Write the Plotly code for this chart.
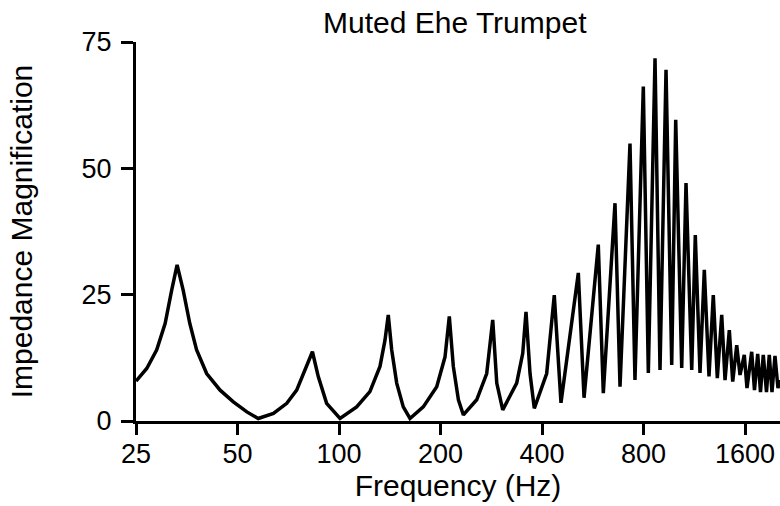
import math
import plotly.graph_objects as go

# Frequency (Hz) and impedance magnification
freq_hz = [25.0, 26.9, 28.8, 30.5, 31.9, 33.1, 34.5, 36.1, 37.8, 40.5,
           44.4, 48.6, 53.3, 57.6, 63.9, 70.0, 74.9, 79.3, 83.4, 86.8,
           91.9, 100.7, 112.8, 123.5, 132.3, 136.9, 140.0, 143.3, 148.3, 155.1,
           162.4, 177.8, 194.9, 206.3, 212.4, 218.3, 226.0, 233.8, 256.1, 274.2,
           285.7, 293.7, 305.9, 336.5, 350.7, 358.6, 368.6, 379.5, 413.0, 435.0,
           455.4, 512.6, 533.0, 587.5, 608.0, 658.5, 681.5, 729.5, 754.8, 799.0,
           826.8, 865.5, 895.5, 933.0, 970.0, 996.8, 1038.5, 1069.5, 1112.0, 1139.5,
           1176.8, 1211.8, 1251.3, 1288.5, 1324.3, 1364.8, 1396.0, 1437.5, 1471.3, 1512.0,
           1546.5, 1592.0, 1622.0, 1674.8, 1707.0, 1745.0, 1778.5, 1812.8, 1852.8, 1888.5,
           1923.8, 1963.5, 2004.0, 2032.0]
magnification = [7.9, 10.4, 14.1, 19.3, 25.9, 30.9, 25.9, 19.3, 14.1, 9.4,
                 6.1, 3.8, 1.8, 0.5, 1.5, 3.5, 6.1, 10.1, 13.7, 8.8,
                 3.5, 0.5, 2.8, 5.8, 10.8, 16.0, 21.0, 14.1, 7.5, 2.8,
                 0.5, 2.8, 6.8, 12.7, 20.7, 10.8, 4.2, 1.2, 4.2, 9.4,
                 20.0, 7.5, 2.2, 7.5, 13.4, 21.6, 9.4, 2.5, 9.4, 24.9,
                 3.6, 29.3, 4.6, 34.9, 5.5, 43.1, 6.8, 54.9, 8.1, 66.2,
                 9.5, 71.8, 10.1, 69.5, 11.1, 59.6, 10.5, 47.1, 10.1, 36.8,
                 9.5, 29.9, 8.8, 24.9, 8.5, 21.0, 8.1, 18.0, 7.8, 15.0,
                 9.1, 13.1, 6.5, 13.7, 6.1, 13.3, 5.7, 13.1, 5.7, 13.1,
                 5.7, 12.9, 6.5, 8.1]

x_ticks = [25, 50, 100, 200, 400, 800, 1600]
x_tick_labels = ["25", "50", "100", "200", "400", "800", "1600"]
y_ticks = [0, 25, 50, 75]
y_tick_labels = ["0", "25", "50", "75"]

title_text = "Muted Ehe Trumpet"
x_title = "Frequency (Hz)"
y_title = "Impedance Magnification"

fig = go.Figure()
fig.add_trace(go.Scatter(
    x=freq_hz, y=magnification, mode="lines",
    line=dict(color="black", width=3.5), hoverinfo="skip", showlegend=False,
))

font_family = "Liberation Sans, Arial, Helvetica, sans-serif"

fig.update_layout(
    width=780, height=506,
    margin=dict(l=136, r=0, t=42, b=85),
    paper_bgcolor="white", plot_bgcolor="white",
    font=dict(family=font_family, color="black", size=27),
    title=dict(text=title_text, x=0.583, xanchor="center", y=0.955, yanchor="middle",
               font=dict(size=30, family=font_family, color="black")),
    xaxis=dict(
        type="log", range=[math.log10(25), math.log10(2032)],
        tickvals=x_ticks, ticktext=x_tick_labels,
        showline=True, linecolor="black", linewidth=3,
        ticks="outside", ticklen=11, tickwidth=3, tickcolor="black",
        ticklabelstandoff=-4,
        showgrid=False, zeroline=False,
        tickfont=dict(size=27),
        title=dict(text=x_title, font=dict(size=30), standoff=0),
    ),
    yaxis=dict(
        range=[0, 75],
        tickvals=y_ticks, ticktext=y_tick_labels,
        showline=True, linecolor="black", linewidth=3,
        ticks="outside", ticklen=12, tickwidth=3, tickcolor="black",
        ticklabelstandoff=4,
        showgrid=False, zeroline=False,
        tickfont=dict(size=27),
        title=dict(text=y_title, font=dict(size=30), standoff=41),
    ),
)

fig.write_html("out.html")
